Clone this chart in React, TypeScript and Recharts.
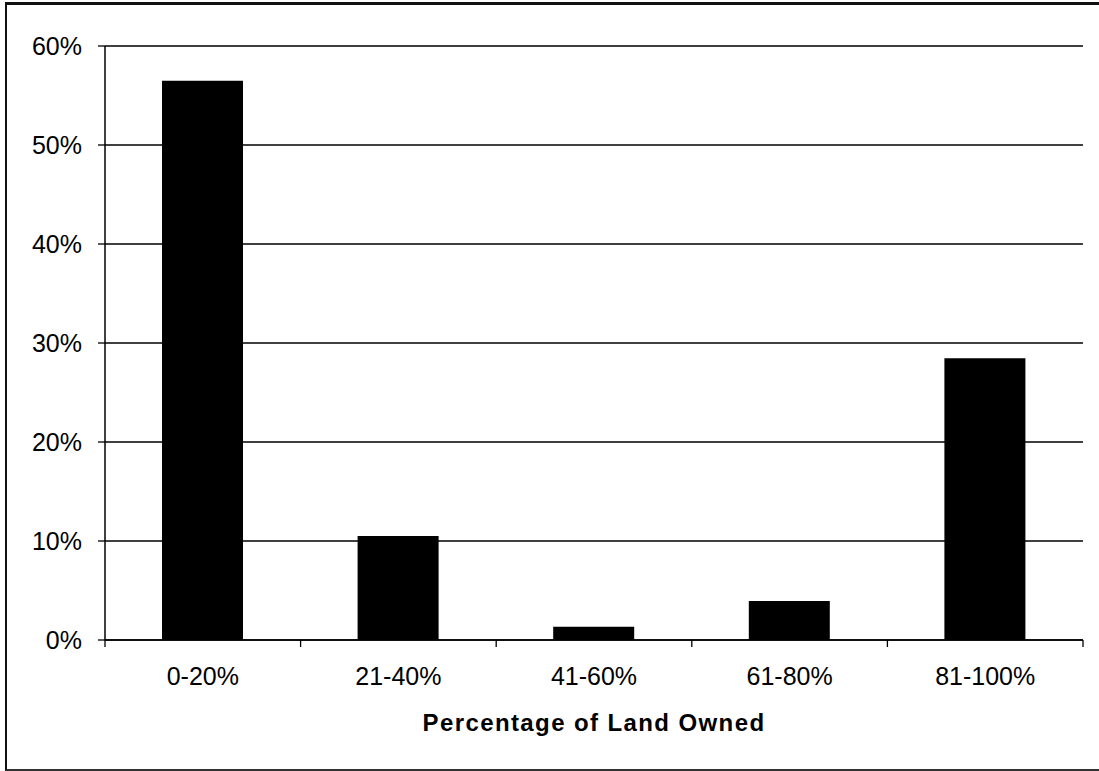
import React from 'react';
import { BarChart, Bar, XAxis, YAxis, CartesianGrid } from 'recharts';

const categories = ['0-20%', '21-40%', '41-60%', '61-80%', '81-100%'];
const shares = [0.565, 0.105, 0.0135, 0.0395, 0.2845];
const yTicks = [0, 0.1, 0.2, 0.3, 0.4, 0.5, 0.6];
const xTitle = 'Percentage of Land Owned';

const data = categories.map((category, i) => ({ category, share: shares[i] }));

const FONT = '"Liberation Sans", Arial, Helvetica, sans-serif';
const LABEL_GAP = 27;
const TICK_LEN = 7;

const CategoryTick = (props: any) => {
  const { x, y, payload, index, visibleTicksCount } = props;
  const half = payload && typeof payload.offset === 'number' ? payload.offset : 0;
  const axisY = y - LABEL_GAP;
  const isLast = index === visibleTicksCount - 1;
  return (
    <g>
      <line x1={x - half} x2={x - half} y1={axisY} y2={axisY + TICK_LEN} stroke="#000" strokeWidth={1.3} />
      {isLast && (
        <line x1={x + half} x2={x + half} y1={axisY} y2={axisY + TICK_LEN} stroke="#000" strokeWidth={1.3} />
      )}
      <text x={x} y={y} dy="0.71em" textAnchor="middle" fontSize={25} fontFamily={FONT} fill="#000">
        {payload.value}
      </text>
    </g>
  );
};

export default function App() {
  return (
    <div style={{ position: 'absolute', left: 0, top: 0, width: 1099, height: 771, background: '#fff', fontFamily: FONT }}>
      <div
        style={{
          position: 'absolute',
          left: 5,
          top: 2,
          width: 1100,
          height: 764,
          borderLeft: '2px solid #111',
          borderTop: '3px solid #111',
          borderBottom: '2px solid #333',
          boxSizing: 'content-box',
        }}
      />
      <div style={{ position: 'absolute', left: 0, top: 0 }}>
        <BarChart
          width={1099}
          height={771}
          data={data}
          margin={{ top: 46, right: 16, bottom: 0, left: 0 }}
        >
          <CartesianGrid vertical={false} stroke="#000" strokeWidth={1.3} />
          <XAxis
            dataKey="category"
            height={131}
            tickLine={false}
            tickSize={0}
            tickMargin={LABEL_GAP}
            axisLine={{ stroke: '#000', strokeWidth: 1.5 }}
            tick={<CategoryTick />}
            interval={0}
          />
          <YAxis
            domain={[0, 0.6]}
            ticks={yTicks}
            width={105}
            tickSize={7}
            tickMargin={16}
            tickFormatter={(v: number) => `${Math.round(v * 100)}%`}
            axisLine={{ stroke: '#000', strokeWidth: 1.5 }}
            tickLine={{ stroke: '#000', strokeWidth: 1.3 }}
            tick={{ fill: '#000', fontSize: 25, fontFamily: FONT }}
          />
          <YAxis
            yAxisId="right"
            orientation="right"
            domain={[0, 0.6]}
            width={0}
            tick={false}
            tickLine={false}
            axisLine={{ stroke: '#000', strokeWidth: 1.5 }}
          />
          <Bar dataKey="share" fill="#000" barSize={81} isAnimationActive={false} />
        </BarChart>
      </div>
      <div
        style={{
          position: 'absolute',
          left: 105,
          width: 978,
          top: 711,
          textAlign: 'center',
          fontFamily: FONT,
          fontWeight: 'bold',
          fontSize: 24,
          lineHeight: '24px',
          letterSpacing: '1.4px',
          color: '#000',
        }}
      >
        {xTitle}
      </div>
    </div>
  );
}
